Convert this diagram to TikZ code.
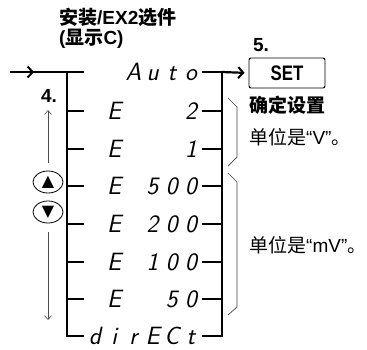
\documentclass[tikz,border=0pt]{standalone}
\usepackage{fontspec}
\setmainfont{Liberation Sans}
\newfontfamily\cjk{Noto Sans CJK SC}
\newfontfamily\symfont{DejaVu Sans}
\newfontfamily\condfont{Liberation Sans}[FakeStretch=0.8]
\usepackage{tikz}
\usetikzlibrary{shapes.geometric, arrows.meta}

% one display position of the range display
\newcommand\lcdch[1]{\makebox[19.2pt]{#1}}
\newcommand\lcdrow[6]{\lcdch{#1}\lcdch{#2}\lcdch{#3}\lcdch{#4}\lcdch{#5}\lcdch{#6}}

\tikzset{
  lcd/.style={inner ysep=0pt, inner xsep=1.5pt, text height=17pt, text depth=0pt,
    font=\fontsize{25}{25}\selectfont\sffamily\itshape},
  bus/.style={line width=2.2pt},
  busarrow/.style={bus, -{Straight Barb[length=5pt, width=11pt, line width=2pt]}},
  grpline/.style={line width=0.7pt, black!75},
  nav/.style={line width=0.6pt, black!70, -{Straight Barb[length=4pt, width=7pt]}},
  btn/.style={draw, ellipse, line width=0.8pt, minimum width=30pt, minimum height=22pt,
    inner sep=0pt, font=\fontsize{16}{16}\selectfont\symfont},
  numlabel/.style={font=\fontsize{19}{19}\selectfont\bfseries, inner sep=0pt},
  title/.style={font=\fontsize{19}{19}\selectfont\bfseries, inner sep=0pt, anchor=west},
  note/.style={font=\fontsize{19}{19}\selectfont, inner sep=0pt, anchor=west},
  setbox/.style={draw, rounded corners=2pt, line width=0.9pt, minimum width=76pt,
    minimum height=30pt, font=\fontsize{21}{21}\selectfont\condfont\bfseries}
}

\begin{document}
\begin{tikzpicture}[x=1pt,y=-1pt]
    \useasboundingbox (0,0) rectangle (367,349);
    % heading
    \node[title] (opt) at (59,17) {{\cjk\bfseries 安装}/EX2{\cjk\bfseries 选件}};
    \node[title] (disp) at (59,39) {({\cjk\bfseries 显示}C)};
    % display items
    \node[lcd] (auto) at (143,72) {\lcdrow{}{}{A}{u}{t}{o}};
    \node[lcd] (e2) at (143,111) {\lcdrow{}{E}{}{}{}{2}};
    \node[lcd] (e1) at (143,149) {\lcdrow{}{E}{}{}{}{1}};
    \node[lcd] (e500) at (143,186) {\lcdrow{}{E}{}{5}{0}{0}};
    \node[lcd] (e200) at (143,224) {\lcdrow{}{E}{}{2}{0}{0}};
    \node[lcd] (e100) at (143,262) {\lcdrow{}{E}{}{1}{0}{0}};
    \node[lcd] (e50) at (143,299) {\lcdrow{}{E}{}{}{5}{0}};
    \node[lcd] (direct) at (143,336) {\lcdrow{d}{i}{r}{E}{C}{t}};
    % left and right bus
    \coordinate (lbus) at (67,0);
    \coordinate (rbus) at (222,0);
    \coordinate (in) at (10,72);
    \draw[bus] (in) -- (auto.west);
    \draw[busarrow] (in) -- (34,72);
    \draw[bus] (lbus |- auto.west) -- (lbus |- direct.west) -- (direct.west);
    \draw[bus] (auto.east) -- (rbus |- auto.east) -- (rbus |- direct.east) -- (direct.east);
    \foreach \r in {e2,e1,e500,e200,e100,e50} {
        \draw[bus] (lbus |- \r.west) -- (\r.west);
        \draw[bus] (rbus |- \r.east) -- (\r.east);
    }
    % SET key
    \node[setbox] (set) at (287,73) {SET};
    \draw[busarrow, shorten >=4pt] (rbus |- auto.east) -- (set.west);
    \node[numlabel] (n5) at (261,45) {5.};
    \node[numlabel] (n4) at (49,96) {4.};
    % unit groups
    \draw[grpline] (228,98) -- (237,107) -- (237,157) -- (228,166);
    \draw[grpline] (228,173) -- (237,182) -- (237,307) -- (228,315);
    \node[note] (fix) at (249,105) {\cjk\bfseries 确定设置};
    \node[note] (unitv) at (249,137) {{\cjk 单位是}“V”{\cjk 。}};
    \node[note] (unitmv) at (249,245) {{\cjk 单位是}“mV”{\cjk 。}};
    % arrow keys
    \node[btn] (up) at (48,182) {▲};
    \node[btn] (down) at (48,212) {▼};
    \coordinate (uptip) at (48,110);
    \coordinate (downtip) at (48,320);
    \draw[nav] ([yshift=8pt]up.north) -- (uptip);
    \draw[nav] ([yshift=-9pt]down.south) -- (downtip);
\end{tikzpicture}
\end{document}
